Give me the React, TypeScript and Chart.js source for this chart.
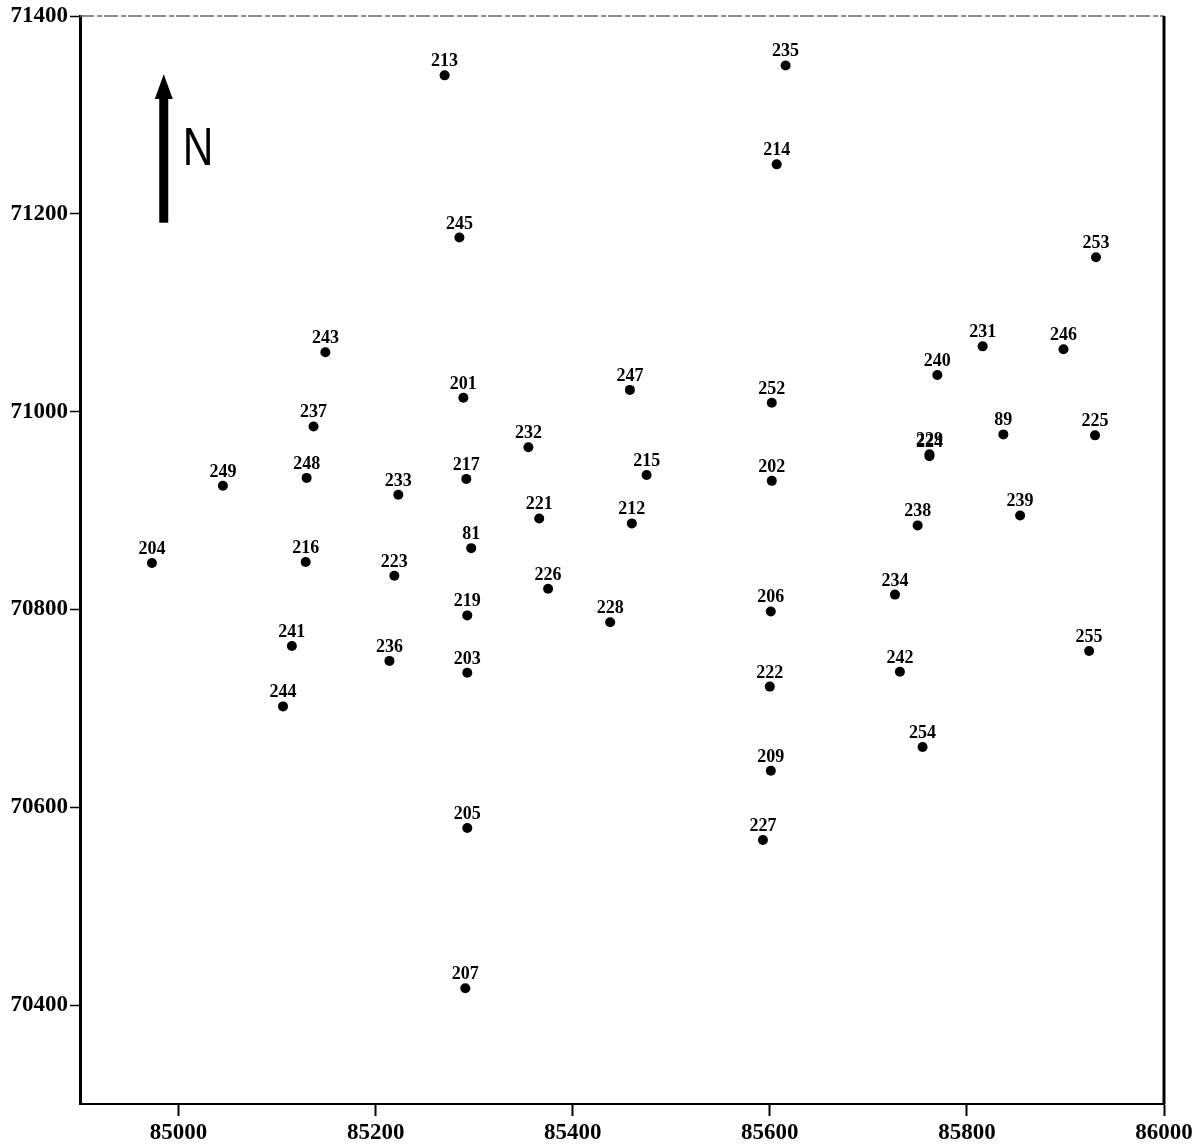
import React, { useEffect, useRef } from 'react';
import { Chart, registerables } from 'chart.js';

Chart.register(...registerables);

// Station ids and their coordinates (easting, northing)
const stationIds = [
  '213', '235', '214', '245', '253', '243', '231', '246', '240', '201',
  '247', '252', '237', '232', '89', '225', '224', '229', '249', '248',
  '233', '217', '215', '202', '239', '221', '212', '238', '204', '216',
  '223', '81', '226', '234', '219', '228', '206', '241', '255', '236',
  '203', '242', '222', '244', '254', '209', '205', '227', '207',
];
const eastings = [
  85270, 85616, 85607, 85285, 85931, 85149, 85816, 85898, 85770, 85289,
  85458, 85602, 85137, 85355, 85837, 85930, 85762, 85762, 85045, 85130,
  85223, 85292, 85475, 85602, 85854, 85366, 85460, 85750, 84973, 85129,
  85219, 85297, 85375, 85727, 85293, 85438, 85601, 85115, 85924, 85214,
  85293, 85732, 85600, 85106, 85755, 85601, 85293, 85593, 85291,
];
const northings = [
  71340, 71350, 71250, 71176, 71156, 71060, 71066, 71063, 71037, 71014,
  71022, 71009, 70985, 70964, 70977, 70976, 70955, 70957, 70925, 70933,
  70916, 70932, 70936, 70930, 70895, 70892, 70887, 70885, 70847, 70848,
  70834, 70862, 70821, 70815, 70794, 70787, 70798, 70763, 70758, 70748,
  70736, 70737, 70722, 70702, 70661, 70637, 70579, 70567, 70417,
];
const xTicks = [85000, 85200, 85400, 85600, 85800, 86000];
const yTicks = [70400, 70600, 70800, 71000, 71200, 71400];
const xRange = [84900, 86000];
const yRange = [70300, 71400];
// north arrow in map coordinates
const northArrow = { x: 84985, yBase: 71191, yTip: 71341, yHead: 71316 };

const labelPlugin = {
  id: 'stationLabels',
  afterDatasetsDraw(chart: any) {
    const ctx = chart.ctx;
    const meta = chart.getDatasetMeta(0);
    ctx.save();
    ctx.fillStyle = '#000';
    ctx.font = 'bold 18px "Liberation Serif"';
    ctx.textAlign = 'center';
    ctx.textBaseline = 'alphabetic';
    meta.data.forEach((el: any, i: number) => {
      ctx.fillText(stationIds[i], el.x, el.y - 9);
    });
    ctx.restore();
  },
};

const framePlugin = {
  id: 'frame',
  afterDraw(chart: any) {
    const { ctx, chartArea, scales } = chart;
    ctx.save();
    // top dashed grey edge
    ctx.strokeStyle = '#666';
    ctx.lineWidth = 1.5;
    ctx.setLineDash([14, 3, 5, 2]);
    ctx.beginPath();
    ctx.moveTo(chartArea.left, chartArea.top);
    ctx.lineTo(chartArea.right, chartArea.top);
    ctx.stroke();
    ctx.setLineDash([]);
    // right edge
    ctx.strokeStyle = '#000';
    ctx.lineWidth = 3;
    ctx.beginPath();
    ctx.moveTo(chartArea.right, chartArea.top);
    ctx.lineTo(chartArea.right, chartArea.bottom);
    ctx.stroke();

    // north arrow
    const x = scales.x.getPixelForValue(northArrow.x);
    const yb = scales.y.getPixelForValue(northArrow.yBase);
    const yt = scales.y.getPixelForValue(northArrow.yTip);
    const yh = scales.y.getPixelForValue(northArrow.yHead);
    ctx.fillStyle = '#000';
    ctx.fillRect(x - 4.5, yh - 2, 9, yb - yh + 2);
    ctx.beginPath();
    ctx.moveTo(x, yt);
    ctx.lineTo(x + 9, yh);
    ctx.lineTo(x - 9, yh);
    ctx.closePath();
    ctx.fill();
    ctx.save();
    ctx.translate(x + 19, (yt + yb) / 2 + 2);
    ctx.scale(0.8, 1);
    ctx.font = '53px "Liberation Sans"';
    ctx.textAlign = 'left';
    ctx.textBaseline = 'middle';
    ctx.fillText('N', 0, 0);
    ctx.restore();
    ctx.restore();
  },
};

export default function App() {
  const ref = useRef<HTMLCanvasElement | null>(null);

  useEffect(() => {
    if (!ref.current) return;
    const points = eastings.map((e, i) => ({ x: e, y: northings[i] }));
    const tickFont = { family: '"Liberation Serif"', weight: 'bold' as const, size: 23 };
    const chart = new Chart(ref.current, {
      type: 'scatter',
      data: {
        datasets: [
          {
            data: points,
            backgroundColor: '#000',
            borderColor: '#000',
            pointRadius: 5,
            pointHoverRadius: 5,
            borderWidth: 0,
          },
        ],
      },
      options: {
        responsive: false,
        animation: false,
        events: [],
        layout: { padding: { left: 0, top: 16, right: 36, bottom: 0 } },
        plugins: { legend: { display: false }, tooltip: { enabled: false } },
        scales: {
          x: {
            type: 'linear',
            min: xRange[0],
            max: xRange[1],
            afterBuildTicks: (scale: any) => {
              scale.ticks = xTicks.map((v) => ({ value: v }));
            },
            afterFit: (scale: any) => {
              scale.height = 44;
            },
            ticks: {
              color: '#000',
              font: tickFont,
              padding: 3,
              maxRotation: 0,
              autoSkip: false,
              callback: (v: any) => String(v),
            },
            grid: {
              drawOnChartArea: false,
              drawTicks: true,
              tickLength: 12,
              tickWidth: 2,
              tickColor: '#000',
            },
            border: { display: true, color: '#000', width: 2 },
          },
          y: {
            type: 'linear',
            min: yRange[0],
            max: yRange[1],
            afterBuildTicks: (scale: any) => {
              scale.ticks = yTicks.map((v) => ({ value: v }));
            },
            afterFit: (scale: any) => {
              scale.width = 80;
            },
            ticks: {
              color: '#000',
              font: tickFont,
              padding: 2,
              autoSkip: false,
              callback: (v: any) => String(v),
            },
            grid: {
              drawOnChartArea: false,
              drawTicks: true,
              tickLength: 10,
              tickWidth: 1.5,
              tickColor: '#000',
            },
            border: { display: true, color: '#000', width: 3 },
          },
        },
      },
      plugins: [labelPlugin, framePlugin],
    });
    return () => chart.destroy();
  }, []);

  return (
    <div style={{ position: 'fixed', left: 0, top: 0, width: 1200, height: 1148, background: '#fff' }}>
      <canvas ref={ref} width={1200} height={1148} style={{ display: 'block' }} />
    </div>
  );
}
